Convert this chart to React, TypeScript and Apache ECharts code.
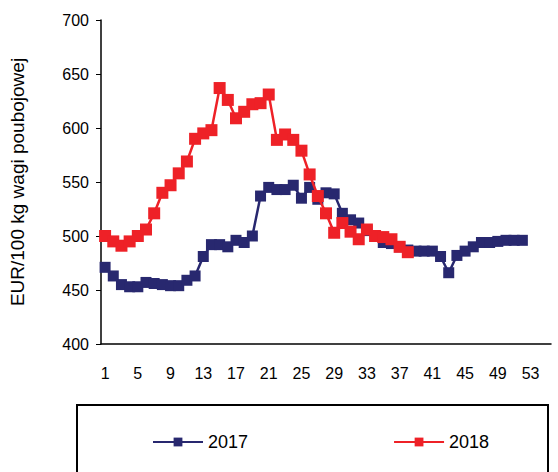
import React, { useEffect, useRef } from "react";
import * as echarts from "echarts";

const weeks: string[] = Array.from({ length: 55 }, (_, i) => String(i + 1));

const y2017: number[] = [
  471, 463, 455, 453, 453, 457, 456, 455, 454, 454, 459, 463, 481, 492, 492, 490,
  496, 494, 500, 537, 545, 543, 543, 547, 535, 545, 534, 540, 539, 521, 515, 512,
  505, 500, 494, 493, 490, 487, 486, 486, 486, 481, 466, 482, 486, 490, 494, 494,
  495, 496, 496, 496,
];

const y2018: number[] = [
  500, 495, 491, 495, 500, 506, 521, 540, 547, 558, 569, 590, 595, 598, 637, 626,
  609, 615, 622, 623, 631, 589, 594, 589, 579, 557, 537, 521, 503, 512, 504, 497,
  506, 500, 499, 497, 490, 485,
];

const seriesNames: string[] = ["2017", "2018"];
const yTitle = "EUR/100 kg wagi poubojowej";

const BLUE = "#28286F";
const RED = "#EE2127";
const FONT = "'Liberation Sans', Arial, sans-serif";

export default function App() {
  const ref = useRef<HTMLDivElement>(null);
  useEffect(() => {
    document.body.style.margin = "0";
    if (!ref.current) return;
    const chart = echarts.init(ref.current, null, { renderer: "svg" });
    chart.setOption({
      animation: false,
      textStyle: { fontFamily: FONT },
      grid: { left: 98, top: 20, right: 7, bottom: 128 },
      xAxis: {
        type: "category",
        data: weeks,
        boundaryGap: true,
        axisLine: { lineStyle: { color: "#000", width: 1.5 } },
        axisTick: { interval: 0, length: 5, lineStyle: { color: "#000", width: 1 } },
        axisLabel: { interval: 3, color: "#000", fontSize: 16, margin: 21, fontFamily: FONT },
      },
      yAxis: {
        type: "value",
        min: 400,
        max: 700,
        interval: 50,
        name: yTitle,
        nameLocation: "middle",
        nameGap: 74,
        nameTextStyle: { color: "#000", fontSize: 19, fontFamily: FONT },
        axisLine: { show: true, lineStyle: { color: "#000", width: 1.5 } },
        axisTick: { show: true, length: 5, lineStyle: { color: "#000", width: 1 } },
        axisLabel: { color: "#000", fontSize: 16, margin: 12, fontFamily: FONT },
        splitLine: { show: false },
      },
      legend: {
        left: 147,
        top: 428,
        itemWidth: 50,
        itemHeight: 11,
        itemGap: 145,
        textStyle: { color: "#000", fontSize: 18, fontFamily: FONT },
        data: seriesNames,
      },
      graphic: [
        {
          type: "rect",
          shape: { x: 77, y: 405, width: 471, height: 90 },
          style: { fill: "none", stroke: "#000", lineWidth: 2 },
          silent: true,
        },
      ],
      series: [
        {
          name: seriesNames[0],
          type: "line",
          data: y2017,
          symbol: "rect",
          symbolSize: 11,
          showAllSymbol: true,
          color: BLUE,
          lineStyle: { color: BLUE, width: 2.5 },
          itemStyle: { color: BLUE },
          z: 2,
        },
        {
          name: seriesNames[1],
          type: "line",
          data: y2018,
          symbol: "rect",
          symbolSize: 12,
          showAllSymbol: true,
          color: RED,
          lineStyle: { color: RED, width: 2.5 },
          itemStyle: { color: RED },
          z: 3,
        },
      ],
    });
    return () => chart.dispose();
  }, []);
  return <div ref={ref} style={{ width: 558, height: 472 }} />;
}
